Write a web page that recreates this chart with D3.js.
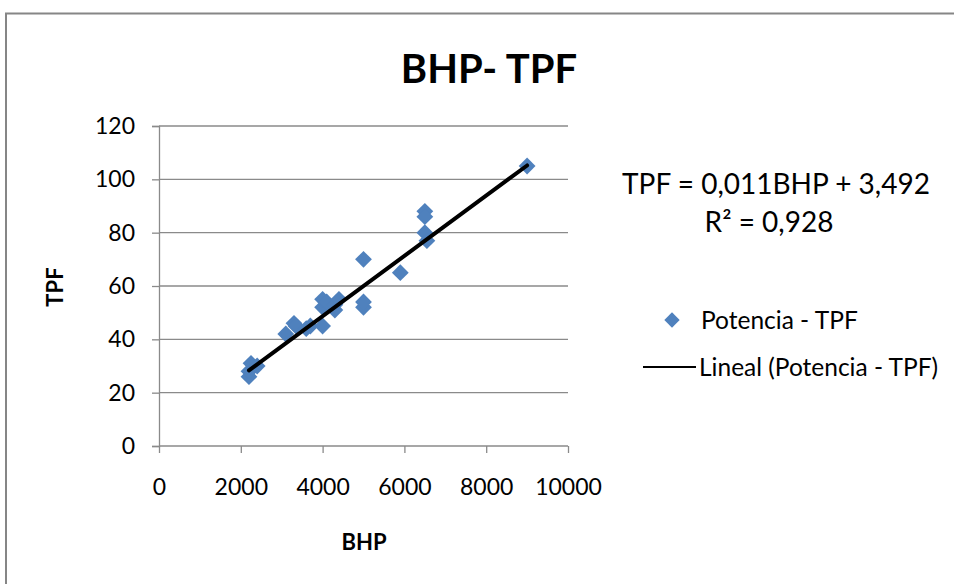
<!DOCTYPE html>
<html>
<head>
<meta charset="utf-8">
<script src="https://cdn.jsdelivr.net/npm/d3@7"></script>
<style>
  html, body { margin: 0; padding: 0; background: #fff; overflow: hidden; }
  svg { display: block; }
  text { font-family: Lato, "Open Sans", sans-serif; fill: #000; }
</style>
</head>
<body>
<svg id="chart" width="954" height="584"></svg>
<script>
// Potencia (BHP) vs TPF observations
const bhp = [2200, 2200, 2250, 2400, 3100, 3300, 3350, 3600, 3700, 4000, 4000, 4000, 4100, 4300, 4300, 4400, 5000, 5000, 5000, 5900, 6500, 6500, 6500, 6550, 9000];
const tpf = [26, 28, 31, 30, 42, 46, 45, 44, 45, 45, 52, 55, 54, 51, 53, 55, 52, 54, 70, 65, 88, 86, 80, 77, 105];

// Linear trend coefficients (label shows them rounded to 3 decimals)
const slope = 0.0113;
const intercept = 3.492;
const r2 = 0.928;

const xTicks = [0, 2000, 4000, 6000, 8000, 10000];
const yTicks = [0, 20, 40, 60, 80, 100, 120];

const title = "BHP- TPF";
const xTitle = "BHP";
const yTitle = "TPF";
const seriesName = "Potencia - TPF";
const trendName = "Lineal (Potencia - TPF)";

const fmt = v => v.toFixed(3).replace(".", ",");

const svg = d3.select("#chart");

// Outer chart frame (runs off the right and bottom edges)
svg.append("path")
  .attr("d", "M6,700V13.5H1000")
  .attr("fill", "none").attr("stroke", "#868686").attr("stroke-width", 2);

const plot = { left: 159, right: 568, top: 126, bottom: 446 };
const x = d3.scaleLinear().domain([0, 10000]).range([plot.left, plot.right]);
const y = d3.scaleLinear().domain([0, 120]).range([plot.bottom, plot.top]);

const grid = "#8a8a8a";

// Horizontal gridlines
svg.append("g").selectAll("line")
  .data(yTicks.filter(d => d > 0))
  .join("line")
  .attr("x1", plot.left).attr("x2", plot.right)
  .attr("y1", d => y(d)).attr("y2", d => y(d))
  .attr("stroke", grid).attr("stroke-width", 1.3);

// Axes
const yAxis = svg.append("g")
  .attr("transform", `translate(${plot.left},0)`)
  .call(d3.axisLeft(y).tickValues(yTicks).tickSize(7).tickPadding(17).tickFormat(d3.format("d")));
const xAxis = svg.append("g")
  .attr("transform", `translate(0,${plot.bottom})`)
  .call(d3.axisBottom(x).tickValues(xTicks).tickSize(7).tickPadding(26).tickFormat(d3.format("d")));

[yAxis, xAxis].forEach(g => {
  g.select(".domain").attr("stroke", grid).attr("stroke-width", 1.3);
  g.selectAll(".tick line").attr("stroke", grid).attr("stroke-width", 1.3);
  g.selectAll(".tick text").style("font-family", "Lato, 'Open Sans', sans-serif")
    .style("font-size", "23px").attr("fill", "#000");
});
xAxis.select(".domain").attr("d", `M${plot.left},0H${plot.right}`);

// Diamond markers
const diamond = d3.symbol().type(d3.symbolDiamond2).size(180);
svg.append("g").selectAll("path")
  .data(bhp.map((b, i) => [b, tpf[i]]))
  .join("path")
  .attr("d", diamond)
  .attr("transform", d => `translate(${x(d[0])},${y(d[1])})`)
  .attr("fill", "#4F81BD");

// Trend line across the observed range
const xMin = d3.min(bhp), xMax = d3.max(bhp);
svg.append("line")
  .attr("x1", x(xMin)).attr("y1", y(slope * xMin + intercept))
  .attr("x2", x(xMax)).attr("y2", y(slope * xMax + intercept))
  .attr("stroke", "#000").attr("stroke-width", 4).attr("stroke-linecap", "round");

// Title
svg.append("text")
  .attr("x", 489).attr("y", 83).attr("text-anchor", "middle")
  .style("font-size", "40px").style("font-weight", "bold")
  .text(title);

// Axis titles
svg.append("text")
  .attr("x", 364).attr("y", 550).attr("text-anchor", "middle")
  .style("font-size", "22px").style("font-weight", "bold")
  .text(xTitle);
svg.append("text")
  .attr("transform", "translate(63,287) rotate(-90)").attr("text-anchor", "middle")
  .style("font-size", "22px").style("font-weight", "bold")
  .text(yTitle);

// Trend equation
svg.append("text")
  .attr("x", 776).attr("y", 194).attr("text-anchor", "middle")
  .style("font-size", "28px")
  .text(`TPF = ${fmt(slope)}BHP + ${fmt(intercept)}`);
svg.append("text")
  .attr("x", 769).attr("y", 232).attr("text-anchor", "middle")
  .style("font-size", "28px")
  .text(`R² = ${fmt(r2)}`);

// Legend
const lg = svg.append("g");
lg.append("path").attr("d", d3.symbol().type(d3.symbolDiamond2).size(150))
  .attr("transform", "translate(672,320)").attr("fill", "#4F81BD");
lg.append("text").attr("x", 701).attr("y", 329).style("font-size", "24.5px").text(seriesName);
lg.append("line").attr("x1", 643).attr("x2", 696).attr("y1", 367).attr("y2", 367)
  .attr("stroke", "#000").attr("stroke-width", 2);
lg.append("text").attr("x", 699).attr("y", 376).style("font-size", "24.5px").text(trendName);
</script>
</body>
</html>
